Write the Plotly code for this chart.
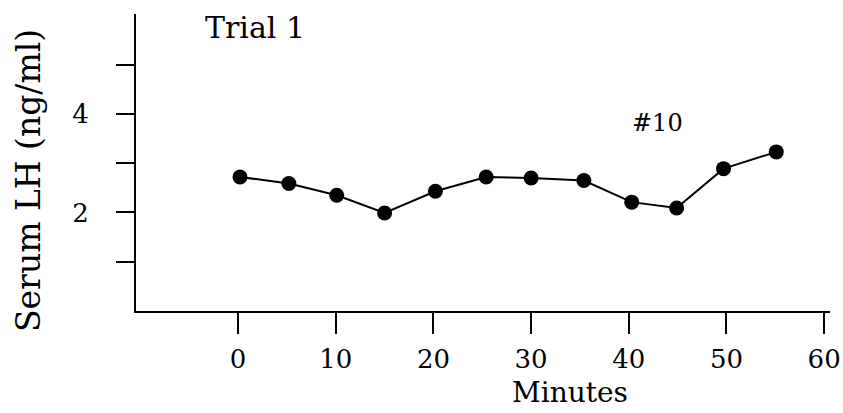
import plotly.graph_objects as go

# Data
minutes = [0.2, 5.2, 10.1, 15.0, 20.2, 25.4, 30.0, 35.4, 40.3, 44.9, 49.7, 55.1]
serum_lh = [2.72, 2.59, 2.35, 1.99, 2.43, 2.72, 2.70, 2.65, 2.21, 2.09, 2.89, 3.23]

x_tickvals = [0, 10, 20, 30, 40, 50, 60]
x_ticktext = ["0", "10", "20", "30", "40", "50", "60"]
y_tickvals = [1, 2, 3, 4, 5]
y_ticktext = ["", "2", "", "4", ""]

FONT = "DejaVu Serif"

fig = go.Figure()
fig.add_trace(go.Scatter(
    x=minutes, y=serum_lh, mode="lines+markers",
    line=dict(color="black", width=2),
    marker=dict(color="black", size=15),
    showlegend=False, hoverinfo="skip",
))

fig.update_layout(
    width=843, height=413,
    margin=dict(l=136, r=13, t=14, b=102, autoexpand=False),
    plot_bgcolor="white", paper_bgcolor="white",
    font=dict(family=FONT, color="black", size=26),
    xaxis=dict(
        range=[-10.45, 60.6], showgrid=False, zeroline=False, automargin=False,
        showline=True, linecolor="black", linewidth=2,
        ticks="outside", ticklen=21, tickwidth=2, tickcolor="black",
        tickvals=x_tickvals, ticktext=x_ticktext,
        tickfont=dict(family=FONT, size=26), ticklabelstandoff=3,
    ),
    yaxis=dict(
        range=[0, 6.03], showgrid=False, zeroline=False, automargin=False,
        showline=True, linecolor="black", linewidth=2,
        ticks="outside", ticklen=18, tickwidth=2, tickcolor="black",
        tickvals=y_tickvals, ticktext=y_ticktext,
        tickfont=dict(family=FONT, size=26), ticklabelstandoff=22,
    ),
    annotations=[
        dict(text="Trial 1", xref="paper", yref="paper", x=0.1715, y=0.953,
             showarrow=False, font=dict(family=FONT, size=30),
             xanchor="center", yanchor="middle"),
        dict(text="#10", xref="x", yref="y", x=42.9, y=3.82,
             showarrow=False, font=dict(family=FONT, size=24),
             xanchor="center", yanchor="middle"),
        dict(text="Minutes", xref="paper", yref="paper", x=0.625, y=-0.338,
             showarrow=False, font=dict(family=FONT, size=28),
             xanchor="center", yanchor="bottom"),
        dict(text="Serum LH (ng/ml)", xref="paper", yref="paper", x=-0.1556, y=0.4377,
             showarrow=False, font=dict(family=FONT, size=33), textangle=-90,
             xanchor="center", yanchor="middle"),
    ],
)

fig.write_html("out.html")
